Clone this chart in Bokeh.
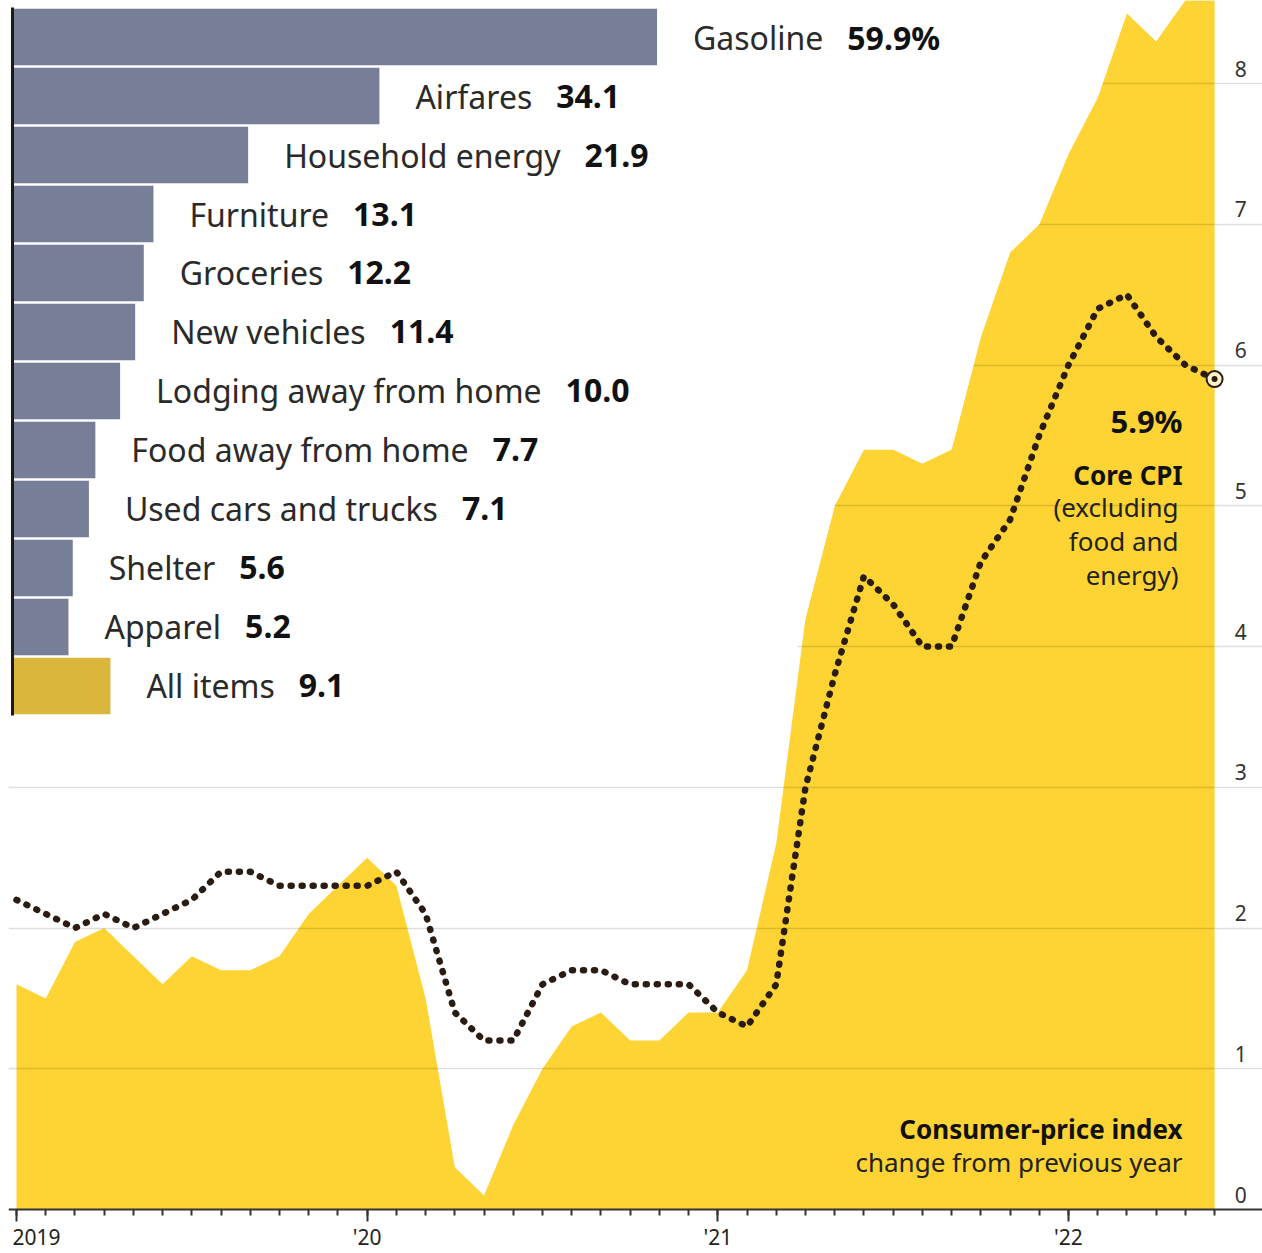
import glob
import subprocess
from bokeh.plotting import figure
from bokeh.models import Range1d, LinearAxis, FixedTicker, ColumnDataSource
from bokeh.core.properties import value
from bokeh.embed import file_html
from bokeh.resources import INLINE

# ---------------- data ----------------
cpi = [1.6, 1.5, 1.9, 2.0, 1.8, 1.6, 1.8, 1.7, 1.7, 1.8, 2.1, 2.3,
       2.5, 2.3, 1.5, 0.3, 0.1, 0.6, 1.0, 1.3, 1.4, 1.2, 1.2, 1.4,
       1.4, 1.7, 2.6, 4.2, 5.0, 5.4, 5.4, 5.3, 5.4, 6.2, 6.8, 7.0,
       7.5, 7.9, 8.5, 8.3, 8.6, 9.1]
core_cpi = [2.2, 2.1, 2.0, 2.1, 2.0, 2.1, 2.2, 2.4, 2.4, 2.3, 2.3, 2.3,
            2.3, 2.4, 2.1, 1.4, 1.2, 1.2, 1.6, 1.7, 1.7, 1.6, 1.6, 1.6,
            1.4, 1.3, 1.6, 3.0, 3.8, 4.5, 4.3, 4.0, 4.0, 4.6, 4.9, 5.5,
            6.0, 6.4, 6.5, 6.2, 6.0, 5.9]
year_ticks = [0, 12, 24, 36]
year_labels = ["2019", "'20", "'21", "'22"]
y_ticks = [0, 1, 2, 3, 4, 5, 6, 7, 8]

categories = ["Gasoline", "Airfares", "Household energy", "Furniture", "Groceries",
              "New vehicles", "Lodging away from home", "Food away from home",
              "Used cars and trucks", "Shelter", "Apparel", "All items"]
category_values = [59.9, 34.1, 21.9, 13.1, 12.2, 11.4, 10.0, 7.7, 7.1, 5.6, 5.2, 9.1]

# ---------------- style ----------------
FONT = "Noto Sans"
YELLOW = "#fdd433"
SLATE = "#777e97"
GOLD = "#dab63d"
DOT = "#2a1c12"

# approximate Noto Sans Regular advance widths (em) used if no font file is found
_W = {" ": .26, "a": .561, "b": .615, "c": .48, "d": .615, "e": .564, "f": .344,
      "g": .615, "h": .618, "i": .258, "j": .258, "k": .533, "l": .258, "m": .939,
      "n": .618, "o": .605, "p": .615, "q": .615, "r": .413, "s": .479, "t": .361,
      "u": .618, "v": .508, "w": .786, "x": .529, "y": .51, "z": .46,
      "A": .639, "F": .532, "G": .726, "H": .746, "L": .536, "N": .774, "S": .549,
      "U": .735, "C": .632, "P": .603, "I": .326}


def _font_path():
    cands = []
    try:
        r = subprocess.run(["fc-match", "-f", "%{file}", "Noto Sans:style=Regular"],
                           capture_output=True, text=True, timeout=5)
        if r.returncode == 0 and r.stdout.strip():
            cands.append(r.stdout.strip())
    except Exception:
        pass
    for pat in ("/usr/share/fonts/**/NotoSans-Regular.*", "/usr/share/fonts/**/NotoSans[[]*",
                "/usr/local/share/fonts/**/NotoSans-Regular.*"):
        cands += glob.glob(pat, recursive=True)
    for c in cands:
        if "NotoSans" in c.replace(" ", "") and "CJK" not in c:
            return c
    return None


def text_width(s, size):
    path = _font_path()
    if path:
        try:
            from PIL import ImageFont
            return ImageFont.truetype(path, size).getlength(s)
        except Exception:
            pass
    return size * sum(_W.get(ch, .56) for ch in s)


months = list(range(len(cpi)))
W, H = 1262, 1253
x0, x1 = -0.274, 42.64
y0, y1 = -0.3126, 8.59

p = figure(width=W, height=H, output_backend="svg", toolbar_location=None,
           x_range=Range1d(x0, x1), y_range=Range1d(y0, y1),
           x_axis_location=None, y_axis_location=None,
           min_border=0, min_border_left=8)
p.outline_line_color = None
p.background_fill_color = "white"
p.border_fill_color = "white"
p.xgrid.visible = False
p.ygrid.visible = False

# extra ranges for the bar inset
p.extra_x_ranges = {"bars": Range1d(-0.372, 116.17)}
p.extra_y_ranges = {"bars": Range1d(20.62, -0.619)}

# CPI area
p.varea(x=months, y1=[0] * len(cpi), y2=cpi, fill_color=YELLOW)

# gridlines (drawn above the area, semi-transparent)
p.hspan(y=y_ticks[1:], line_color="#000000", line_alpha=0.13, line_width=1.5)

# white mask behind the bar inset (hides gridlines there, not over the area)
mask_floor = 3.45
mask_x = [x0] + months
mask_lo = [mask_floor] + [min(max(v, mask_floor), y1) for v in cpi]
p.varea(x=mask_x, y1=mask_lo, y2=[y1 + 1] * len(mask_x), fill_color="white")

# bar inset
idx = list(range(len(categories)))
bar_colors = [SLATE] * (len(categories) - 1) + [GOLD]
bsrc = ColumnDataSource(dict(y=idx, right=category_values, color=bar_colors))
p.hbar(y="y", left=0, right="right", height=0.955, fill_color="color", line_color=None,
       source=bsrc, x_range_name="bars", y_range_name="bars")
p.segment(x0=[0], y0=[-0.5], x1=[0], y1=[len(categories) - 0.5], line_color="#1a1a1a",
          line_width=3, x_range_name="bars", y_range_name="bars")

NAME_SIZE = 32
name_off = [36] * len(categories)
val_texts = [f"{v:.1f}%" if i == 0 else f"{v:.1f}" for i, v in enumerate(category_values)]
val_off = [36 + text_width(c, NAME_SIZE) + 24 for c in categories]
tsrc = ColumnDataSource(dict(x=category_values, y=idx, name=categories, val=val_texts,
                             noff=name_off, voff=val_off))
p.text(x="x", y="y", text="name", x_offset="noff", source=tsrc,
       x_range_name="bars", y_range_name="bars",
       text_font=value(FONT), text_font_size=f"{NAME_SIZE}px", text_color="#2a2a2a",
       text_align="left", text_baseline="middle")
p.text(x="x", y="y", text="val", x_offset="voff", source=tsrc,
       x_range_name="bars", y_range_name="bars",
       text_font=value(FONT), text_font_size=f"{NAME_SIZE}px", text_font_style="bold",
       text_color="#111111", text_align="left", text_baseline="middle")

# core CPI dotted line
p.line(months, core_cpi, line_color=DOT, line_width=6.5, line_dash="1 10", line_cap="round")
p.scatter([months[-1]], [core_cpi[-1]], size=16, fill_color="#fff3c8", line_color=DOT,
          line_width=2)
p.scatter([months[-1]], [core_cpi[-1]], size=6, fill_color=DOT, line_color=None)

# annotations near the end point
lx, ly = months[-1], core_cpi[-1]
p.text(x=[lx], y=[ly], text=[f"{core_cpi[-1]:.1f}%"], x_offset=-32, y_offset=42,
       text_font=value(FONT), text_font_size="31px", text_font_style="bold",
       text_color="#111111", text_align="right", text_baseline="middle")
p.text(x=[lx], y=[ly], text=["Core CPI"], x_offset=-32, y_offset=96,
       text_font=value(FONT), text_font_size="26px", text_font_style="bold",
       text_color="#111111", text_align="right", text_baseline="middle")
p.text(x=[lx] * 3, y=[ly] * 3, text=["(excluding", "food and", "energy)"],
       x_offset=-36, y_offset=[128, 162, 196],
       text_font=value(FONT), text_font_size="26px", text_color="#222222",
       text_align="right", text_baseline="middle")

p.text(x=[lx], y=[0], text=["Consumer-price index"], x_offset=-32, y_offset=-81,
       text_font=value(FONT), text_font_size="26px", text_font_style="bold",
       text_color="#111111", text_align="right", text_baseline="middle")
p.text(x=[lx], y=[0], text=["change from previous year"], x_offset=-32, y_offset=-48,
       text_font=value(FONT), text_font_size="26px", text_color="#222222",
       text_align="right", text_baseline="middle")

# y tick labels (sit above their gridlines, right of the area)
p.text(x=[41.9] * len(y_ticks), y=y_ticks, text=[str(t) for t in y_ticks], y_offset=-15,
       text_font=value(FONT), text_font_size="21px", text_color="#333333",
       text_align="center", text_baseline="middle")

# x axis (line + monthly ticks); labels drawn as text below
xaxis = LinearAxis(fixed_location=0,
                   ticker=FixedTicker(ticks=year_ticks, minor_ticks=months),
                   major_label_overrides={t: "" for t in year_ticks})
xaxis.axis_line_color = "#333333"
xaxis.axis_line_width = 2
xaxis.major_tick_line_color = "#333333"
xaxis.major_tick_line_width = 2
xaxis.major_tick_in = 0
xaxis.major_tick_out = 12
xaxis.minor_tick_line_color = "#333333"
xaxis.minor_tick_line_width = 2
xaxis.minor_tick_in = 0
xaxis.minor_tick_out = 6
xaxis.major_label_text_font_size = "1px"
xaxis.major_label_standoff = 0
p.add_layout(xaxis, "below")

# year labels (first one left-aligned so it stays inside the page)
p.text(x=year_ticks[:1], y=[0], text=year_labels[:1], x_offset=-4, y_offset=27,
       text_font=value(FONT), text_font_size="21px", text_color="#222222",
       text_align="left", text_baseline="middle")
p.text(x=year_ticks[1:], y=[0] * 3, text=year_labels[1:], y_offset=27,
       text_font=value(FONT), text_font_size="21px", text_color="#222222",
       text_align="center", text_baseline="middle")

open("out.html", "w").write(file_html(p, INLINE))
